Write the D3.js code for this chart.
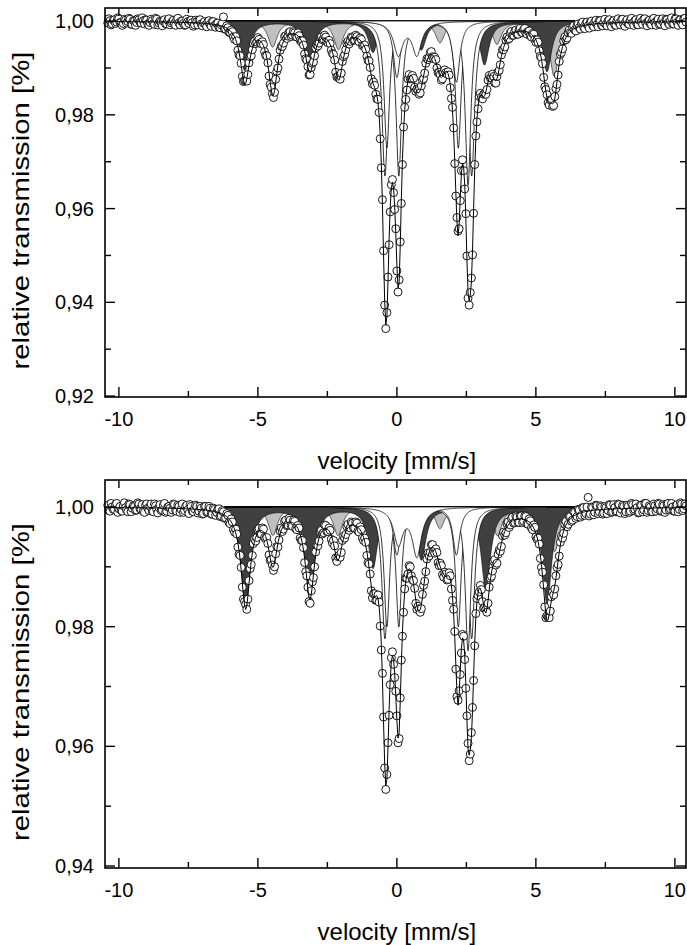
<!DOCTYPE html>
<html lang="en">
<head>
<meta charset="UTF-8">
<title>Mössbauer spectra</title>
<style>
  body { margin: 0; background: #fff; }
  svg { display: block; font-family: "Liberation Sans", Arial, sans-serif; }
</style>
</head>
<body>
<svg id="chart" width="687" height="945"></svg>
<script src="https://d3js.org/d3.v7.min.js"></script>
<script>
// velocity channels (mm/s): every 0.04, stored as two interleaved halves
const velStart = -10.4;
const velStep = 0.08;
const halfOffset = 0.04;

// velocity ticks
const xMajor = [-10, -5, 0, 5, 10];
const xMinor = [-7.5, -2.5, 2.5, 7.5];

// upper spectrum, channels -10.40, -10.32, ...
const topObs = [
  0.9996, 1.0001, 0.9994, 1.0003, 0.9998, 1.0005, 0.9997, 0.9995, 1.0002, 0.9999,
  1.0004, 0.9993, 1.0000, 0.9997, 1.0003, 0.9996, 1.0001, 1.0003, 0.9994, 0.9997,
  1.0001, 0.9993, 1.0004, 0.9996, 0.9998, 1.0000, 0.9994, 1.0002, 0.9992, 0.9999,
  0.9995, 1.0003, 0.9996, 1.0000, 0.9995, 0.9992, 0.9999, 1.0001, 0.9997, 0.9992,
  0.9999, 1.0002, 0.9994, 0.9996, 0.9992, 0.9999, 0.9993, 0.9999, 0.9991, 0.9995,
  0.9987, 0.9992, 1.0009, 0.9983, 0.9986, 0.9976, 0.9977, 0.9961, 0.9958, 0.9928,
  0.9910, 0.9871, 0.9873, 0.9886, 0.9924, 0.9939, 0.9957, 0.9955, 0.9961, 0.9952,
  0.9950, 0.9927, 0.9911, 0.9865, 0.9845, 0.9848, 0.9893, 0.9919, 0.9946, 0.9953,
  0.9969, 0.9968, 0.9977, 0.9970, 0.9975, 0.9966, 0.9969, 0.9956, 0.9949, 0.9920,
  0.9903, 0.9886, 0.9910, 0.9926, 0.9949, 0.9953, 0.9966, 0.9962, 0.9966, 0.9954,
  0.9952, 0.9931, 0.9917, 0.9881, 0.9878, 0.9889, 0.9924, 0.9939, 0.9957, 0.9957,
  0.9965, 0.9960, 0.9967, 0.9956, 0.9961, 0.9947, 0.9940, 0.9916, 0.9901, 0.9866,
  0.9863, 0.9834, 0.9805, 0.9687, 0.9510, 0.9344, 0.9454, 0.9593, 0.9662, 0.9598,
  0.9467, 0.9448, 0.9611, 0.9774, 0.9833, 0.9877, 0.9877, 0.9884, 0.9859, 0.9855,
  0.9844, 0.9862, 0.9877, 0.9910, 0.9918, 0.9933, 0.9924, 0.9923, 0.9900, 0.9891,
  0.9874, 0.9891, 0.9890, 0.9892, 0.9858, 0.9816, 0.9696, 0.9581, 0.9557, 0.9681,
  0.9681, 0.9589, 0.9409, 0.9421, 0.9501, 0.9694, 0.9785, 0.9839, 0.9838, 0.9844,
  0.9844, 0.9874, 0.9879, 0.9887, 0.9868, 0.9882, 0.9895, 0.9928, 0.9939, 0.9960,
  0.9961, 0.9975, 0.9969, 0.9978, 0.9972, 0.9982, 0.9976, 0.9982, 0.9974, 0.9978,
  0.9969, 0.9974, 0.9961, 0.9960, 0.9937, 0.9922, 0.9880, 0.9854, 0.9826, 0.9832,
  0.9818, 0.9839, 0.9865, 0.9914, 0.9933, 0.9958, 0.9960, 0.9975, 0.9976, 0.9987,
  0.9981, 0.9991, 0.9986, 0.9996, 0.9987, 0.9995, 0.9990, 0.9998, 0.9991, 0.9998,
  0.9993, 1.0001, 0.9991, 0.9997, 0.9993, 1.0001, 0.9994, 0.9999, 0.9992, 1.0001,
  0.9996, 1.0003, 0.9993, 0.9999, 0.9994, 1.0002, 0.9996, 1.0001, 0.9993, 1.0002,
  0.9998, 1.0004, 0.9995, 1.0000, 0.9994, 1.0003, 0.9997, 1.0001, 0.9993, 1.0002,
  0.9996, 1.0004, 0.9996, 1.0001, 0.9994, 1.0004, 0.9997, 1.0002, 0.9995, 1.0005,
  0.9998
];
// upper spectrum, channels -10.36, -10.28, ...
const topObsHalf = [
  1.0005, 0.9992, 1.0002, 0.9995, 1.0007, 0.9997, 0.9991, 1.0004, 0.9996, 1.0006,
  0.9993, 1.0001, 0.9991, 1.0005, 0.9998, 1.0007, 0.9994, 1.0002, 0.9991, 1.0004,
  0.9995, 1.0006, 0.9992, 1.0000, 0.9990, 1.0003, 0.9994, 1.0005, 0.9996, 1.0002,
  0.9991, 1.0006, 0.9992, 1.0000, 0.9991, 1.0004, 0.9995, 1.0002, 0.9989, 1.0002,
  0.9992, 1.0003, 0.9990, 0.9999, 0.9988, 1.0001, 0.9989, 0.9999, 0.9987, 0.9996,
  0.9986, 0.9995, 0.9983, 0.9990, 0.9976, 0.9981, 0.9966, 0.9967, 0.9938, 0.9926,
  0.9882, 0.9873, 0.9872, 0.9911, 0.9926, 0.9953, 0.9952, 0.9965, 0.9953, 0.9956,
  0.9935, 0.9926, 0.9883, 0.9859, 0.9837, 0.9876, 0.9900, 0.9938, 0.9946, 0.9967,
  0.9963, 0.9976, 0.9967, 0.9977, 0.9967, 0.9975, 0.9959, 0.9958, 0.9930, 0.9917,
  0.9885, 0.9901, 0.9913, 0.9943, 0.9947, 0.9965, 0.9960, 0.9970, 0.9956, 0.9959,
  0.9938, 0.9929, 0.9891, 0.9882, 0.9876, 0.9914, 0.9928, 0.9953, 0.9951, 0.9966,
  0.9959, 0.9970, 0.9959, 0.9964, 0.9948, 0.9949, 0.9925, 0.9915, 0.9877, 0.9870,
  0.9844, 0.9833, 0.9749, 0.9619, 0.9394, 0.9378, 0.9523, 0.9651, 0.9634, 0.9557,
  0.9422, 0.9529, 0.9694, 0.9816, 0.9853, 0.9886, 0.9878, 0.9878, 0.9850, 0.9852,
  0.9847, 0.9874, 0.9889, 0.9920, 0.9922, 0.9935, 0.9920, 0.9918, 0.9890, 0.9886,
  0.9877, 0.9896, 0.9887, 0.9885, 0.9835, 0.9772, 0.9627, 0.9552, 0.9617, 0.9704,
  0.9642, 0.9499, 0.9394, 0.9452, 0.9590, 0.9755, 0.9813, 0.9846, 0.9834, 0.9846,
  0.9854, 0.9884, 0.9879, 0.9882, 0.9868, 0.9892, 0.9907, 0.9939, 0.9945, 0.9966,
  0.9963, 0.9978, 0.9970, 0.9981, 0.9972, 0.9984, 0.9975, 0.9984, 0.9972, 0.9979,
  0.9966, 0.9972, 0.9955, 0.9955, 0.9925, 0.9909, 0.9860, 0.9843, 0.9821, 0.9831,
  0.9820, 0.9856, 0.9885, 0.9929, 0.9941, 0.9966, 0.9964, 0.9981, 0.9974, 0.9990,
  0.9979, 0.9994, 0.9983, 0.9998, 0.9984, 0.9998, 0.9985, 1.0000, 0.9988, 1.0002,
  0.9988, 1.0001, 0.9990, 1.0004, 0.9990, 1.0003, 0.9988, 1.0001, 0.9991, 1.0005,
  0.9992, 1.0004, 0.9989, 1.0003, 0.9993, 1.0006, 0.9991, 1.0003, 0.9992, 1.0006,
  0.9993, 1.0005, 0.9990, 1.0002, 0.9992, 1.0006, 0.9991, 1.0004, 0.9994, 1.0005,
  0.9990, 1.0003, 0.9993, 1.0007, 0.9994, 1.0005, 0.9991, 1.0003, 0.9992, 1.0006
];

// lower spectrum, channels -10.40, -10.32, ...
const botObs = [
  1.0003, 0.9993, 1.0000, 0.9996, 1.0006, 0.9997, 0.9994, 1.0002, 0.9999, 0.9992,
  1.0004, 0.9998, 1.0001, 0.9995, 1.0005, 0.9996, 0.9993, 1.0003, 0.9998, 1.0001,
  0.9993, 1.0005, 0.9996, 0.9999, 0.9994, 1.0003, 0.9991, 1.0000, 0.9998, 0.9995,
  1.0004, 0.9993, 1.0001, 0.9996, 0.9991, 1.0001, 0.9995, 1.0004, 0.9993, 0.9997,
  1.0001, 0.9993, 0.9998, 0.9989, 1.0001, 0.9992, 0.9998, 0.9988, 0.9996, 0.9991,
  0.9997, 0.9985, 0.9992, 0.9982, 0.9986, 0.9972, 0.9975, 0.9958, 0.9955, 0.9921,
  0.9899, 0.9846, 0.9837, 0.9846, 0.9897, 0.9919, 0.9946, 0.9949, 0.9964, 0.9955,
  0.9963, 0.9947, 0.9939, 0.9911, 0.9903, 0.9900, 0.9934, 0.9945, 0.9965, 0.9963,
  0.9978, 0.9970, 0.9978, 0.9968, 0.9976, 0.9962, 0.9965, 0.9944, 0.9932, 0.9892,
  0.9866, 0.9839, 0.9875, 0.9900, 0.9936, 0.9943, 0.9961, 0.9957, 0.9969, 0.9959,
  0.9961, 0.9940, 0.9935, 0.9909, 0.9919, 0.9924, 0.9951, 0.9954, 0.9971, 0.9965,
  0.9973, 0.9965, 0.9973, 0.9958, 0.9962, 0.9944, 0.9941, 0.9907, 0.9888, 0.9848,
  0.9855, 0.9844, 0.9841, 0.9761, 0.9649, 0.9528, 0.9606, 0.9703, 0.9758, 0.9715,
  0.9651, 0.9613, 0.9744, 0.9824, 0.9881, 0.9888, 0.9900, 0.9878, 0.9864, 0.9829,
  0.9830, 0.9830, 0.9869, 0.9892, 0.9923, 0.9924, 0.9937, 0.9923, 0.9924, 0.9902,
  0.9902, 0.9883, 0.9888, 0.9879, 0.9885, 0.9844, 0.9792, 0.9683, 0.9693, 0.9756,
  0.9784, 0.9697, 0.9605, 0.9587, 0.9665, 0.9768, 0.9847, 0.9858, 0.9862, 0.9831,
  0.9829, 0.9839, 0.9881, 0.9893, 0.9912, 0.9906, 0.9928, 0.9934, 0.9958, 0.9957,
  0.9975, 0.9970, 0.9983, 0.9974, 0.9983, 0.9974, 0.9985, 0.9976, 0.9984, 0.9971,
  0.9977, 0.9962, 0.9966, 0.9946, 0.9938, 0.9899, 0.9870, 0.9815, 0.9816, 0.9826,
  0.9858, 0.9863, 0.9899, 0.9918, 0.9951, 0.9956, 0.9976, 0.9971, 0.9984, 0.9978,
  0.9991, 0.9984, 0.9995, 0.9986, 0.9999, 0.9989, 1.0016, 0.9988, 0.9999, 0.9991,
  1.0002, 0.9992, 1.0000, 0.9990, 0.9999, 0.9994, 1.0003, 0.9992, 0.9999, 0.9993,
  1.0004, 0.9996, 1.0001, 0.9992, 1.0001, 0.9993, 1.0004, 0.9996, 0.9999, 0.9991,
  1.0003, 0.9995, 1.0006, 0.9994, 1.0000, 0.9992, 1.0002, 0.9997, 1.0005, 0.9994,
  1.0002, 0.9995, 1.0006, 0.9997, 1.0000, 0.9993, 1.0004, 0.9996, 1.0005, 0.9997,
  1.0002
];
// lower spectrum, channels -10.36, -10.28, ...
const botObsHalf = [
  0.9994, 1.0006, 0.9996, 1.0004, 0.9991, 1.0001, 0.9993, 1.0007, 0.9995, 1.0005,
  0.9992, 1.0002, 0.9994, 1.0007, 0.9997, 1.0004, 0.9991, 1.0005, 0.9994, 1.0005,
  0.9992, 1.0002, 0.9990, 1.0004, 0.9995, 1.0006, 0.9993, 1.0001, 0.9991, 1.0005,
  0.9994, 1.0003, 0.9991, 1.0005, 0.9994, 1.0003, 0.9989, 1.0001, 0.9992, 1.0003,
  0.9990, 1.0001, 0.9988, 1.0001, 0.9991, 1.0001, 0.9988, 0.9998, 0.9986, 0.9996,
  0.9984, 0.9994, 0.9981, 0.9989, 0.9974, 0.9980, 0.9962, 0.9963, 0.9933, 0.9919,
  0.9866, 0.9842, 0.9829, 0.9877, 0.9904, 0.9939, 0.9943, 0.9962, 0.9955, 0.9965,
  0.9949, 0.9949, 0.9920, 0.9912, 0.9894, 0.9922, 0.9933, 0.9960, 0.9959, 0.9976,
  0.9969, 0.9981, 0.9969, 0.9978, 0.9964, 0.9969, 0.9948, 0.9944, 0.9907, 0.9885,
  0.9842, 0.9860, 0.9882, 0.9925, 0.9935, 0.9959, 0.9955, 0.9970, 0.9959, 0.9965,
  0.9946, 0.9944, 0.9915, 0.9917, 0.9916, 0.9944, 0.9948, 0.9967, 0.9961, 0.9975,
  0.9965, 0.9975, 0.9960, 0.9967, 0.9948, 0.9948, 0.9919, 0.9905, 0.9860, 0.9855,
  0.9844, 0.9853, 0.9801, 0.9722, 0.9564, 0.9553, 0.9652, 0.9748, 0.9737, 0.9692,
  0.9606, 0.9681, 0.9784, 0.9863, 0.9881, 0.9902, 0.9885, 0.9877, 0.9839, 0.9834,
  0.9824, 0.9854, 0.9876, 0.9913, 0.9918, 0.9937, 0.9926, 0.9930, 0.9907, 0.9906,
  0.9887, 0.9891, 0.9878, 0.9890, 0.9863, 0.9829, 0.9729, 0.9677, 0.9720, 0.9787,
  0.9745, 0.9651, 0.9576, 0.9623, 0.9710, 0.9822, 0.9852, 0.9869, 0.9842, 0.9832,
  0.9824, 0.9866, 0.9884, 0.9909, 0.9903, 0.9921, 0.9926, 0.9952, 0.9953, 0.9972,
  0.9966, 0.9981, 0.9973, 0.9985, 0.9974, 0.9985, 0.9974, 0.9985, 0.9972, 0.9980,
  0.9965, 0.9970, 0.9950, 0.9948, 0.9914, 0.9891, 0.9833, 0.9818, 0.9815, 0.9850,
  0.9853, 0.9885, 0.9904, 0.9941, 0.9948, 0.9971, 0.9967, 0.9984, 0.9976, 0.9992,
  0.9981, 0.9996, 0.9983, 0.9999, 0.9986, 1.0000, 0.9985, 1.0000, 0.9987, 1.0003,
  0.9989, 1.0002, 0.9988, 1.0001, 0.9989, 1.0004, 0.9991, 1.0004, 0.9992, 1.0005,
  0.9990, 1.0003, 0.9989, 1.0003, 0.9991, 1.0006, 0.9994, 1.0005, 0.9990, 1.0003,
  0.9992, 1.0006, 0.9991, 1.0002, 0.9992, 1.0005, 0.9993, 1.0006, 0.9993, 1.0004,
  0.9991, 1.0005, 0.9995, 1.0006, 0.9993, 1.0002, 0.9992, 1.0007, 0.9994, 1.0005
];

// fitted subspectra (line position mm/s, depth, half width mm/s)
const topDarkPos = [-5.47, -3.13, -0.86, 0.88, 3.15, 5.40];
const topDarkDepth = [0.0105, 0.0098, 0.0065, 0.0060, 0.0092, 0.0107];
const topLightPos = [-4.47, -2.10, -0.25, 1.55, 3.60, 5.66];
const topLightDepth = [0.0055, 0.0060, 0.0040, 0.0045, 0.0048, 0.0117];
const topDoubletPos = [[-0.43, 2.69], [0.07, 2.21], [-0.36, 2.56], [0.00, 2.14], [0.05, 0.72]];
const topDoubletDepth = [[0.033, 0.033], [0.033, 0.027], [0.027, 0.035], [0.012, 0.013], [0.007, 0.007]];
const topDoubletWidth = [0.13, 0.12, 0.12, 0.15, 0.20];
const topExtraPos = [-5.45, -4.45, -2.09, 1.62, 3.55, 5.55];
const topExtraDepth = [0.0022, 0.0095, 0.0052, 0.0030, 0.0042, 0.0012];

const botDarkPos = [-5.44, -3.13, -0.86, 0.88, 3.20, 5.40];
const botDarkDepth = [0.0165, 0.0145, 0.0100, 0.0086, 0.0136, 0.0160];
const botLightPos = [-4.46, -2.12, -0.25, 1.55, 3.62, 5.68];
const botLightDepth = [0.0047, 0.0047, 0.0030, 0.0035, 0.0047, 0.0074];
const botDoubletPos = [[-0.43, 2.69], [0.07, 2.21], [-0.36, 2.56], [0.00, 2.14], [0.05, 0.72]];
const botDoubletDepth = [[0.022, 0.022], [0.020, 0.020], [0.020, 0.024], [0.008, 0.008], [0.006, 0.008]];
const botDoubletWidth = [0.13, 0.12, 0.12, 0.15, 0.20];
const botExtraPos = [-4.46, -2.12, 1.75];
const botExtraDepth = [0.0042, 0.0027, 0.0050];

const sextetWidth = 0.2;

function lines(pos, depth, hw) {
  return pos.map((p, i) => ({ p: p, d: depth[i], w: hw }));
}
// Lorentzian absorption of a set of lines at velocity v
function absorb(ls, v) {
  return d3.sum(ls, l => l.d / (1 + ((v - l.p) / l.w) ** 2));
}

const panels = [
  {
    top: 8, bottom: 397, yDomain: [0.9198, 1.0028],
    yMajor: [0.92, 0.94, 0.96, 0.98, 1.00],
    yMinor: [0.93, 0.95, 0.97, 0.99],
    obs: topObs, obsHalf: topObsHalf,
    dark: lines(topDarkPos, topDarkDepth, sextetWidth),
    light: lines(topLightPos, topLightDepth, sextetWidth),
    doublets: topDoubletPos.map((p, k) => lines(p, topDoubletDepth[k], topDoubletWidth[k])),
    extra: lines(topExtraPos, topExtraDepth, sextetWidth)
  },
  {
    top: 480, bottom: 868, yDomain: [0.93967, 1.00451],
    yMajor: [0.94, 0.96, 0.98, 1.00],
    yMinor: [0.95, 0.97, 0.99],
    obs: botObs, obsHalf: botObsHalf,
    dark: lines(botDarkPos, botDarkDepth, sextetWidth),
    light: lines(botLightPos, botLightDepth, sextetWidth),
    doublets: botDoubletPos.map((p, k) => lines(p, botDoubletDepth[k], botDoubletWidth[k])),
    extra: lines(botExtraPos, botExtraDepth, sextetWidth)
  }
];

const svg = d3.select("#chart");
const left = 105, right = 686;
const x = d3.scaleLinear().domain([-10.5, 10.4]).range([left, right]);
const fine = d3.range(-6.2, 6.4001, 0.01);
const fmt = d => d3.format(".2f")(d).replace(".", ",");

panels.forEach(pn => {
  const y = d3.scaleLinear().domain(pn.yDomain).range([pn.bottom, pn.top]);
  const g = svg.append("g");
  const pts = pn.obs.map((t, i) => ({ v: velStart + i * velStep, t: t }))
    .concat(pn.obsHalf.map((t, i) => ({ v: velStart + halfOffset + i * velStep, t: t })))
    .sort((a, b) => a.v - b.v);

  const area = ls => d3.area()
    .x(v => x(v))
    .y0(y(1))
    .y1(v => y(1 - absorb(ls, v)))(fine);

  // subspectra: light sextet, dark sextet, then white doublets
  g.append("path").attr("d", area(pn.light))
    .attr("fill", "#c0c0c0").attr("stroke", "#000").attr("stroke-width", 0.6);
  g.append("path").attr("d", area(pn.dark))
    .attr("fill", "#404040").attr("stroke", "#000").attr("stroke-width", 0.6);
  pn.doublets.forEach(ls => {
    g.append("path").attr("d", area(ls))
      .attr("fill", "#fff").attr("stroke", "#000").attr("stroke-width", 0.8);
  });

  // measured points
  g.selectAll("circle").data(pts).join("circle")
    .attr("cx", d => x(d.v)).attr("cy", d => y(d.t)).attr("r", 4)
    .attr("fill", "#fff").attr("stroke", "#000").attr("stroke-width", 0.9);

  // total fit
  const all = pn.dark.concat(pn.light, pn.extra, ...pn.doublets);
  g.append("path")
    .attr("d", d3.line().x(d => x(d.v)).y(d => y(1 - absorb(all, d.v)))(pts))
    .attr("fill", "none").attr("stroke", "#000").attr("stroke-width", 1);

  // frame and inward ticks
  g.append("rect").attr("x", left).attr("y", pn.top)
    .attr("width", right - left).attr("height", pn.bottom - pn.top)
    .attr("fill", "none").attr("stroke", "#000").attr("stroke-width", 1.6);

  const tick = (x1, y1, x2, y2) => g.append("line")
    .attr("x1", x1).attr("y1", y1).attr("x2", x2).attr("y2", y2)
    .attr("stroke", "#000").attr("stroke-width", 1.4);
  xMajor.forEach(v => { tick(x(v), pn.bottom, x(v), pn.bottom - 10); tick(x(v), pn.top, x(v), pn.top + 8); });
  xMinor.forEach(v => { tick(x(v), pn.bottom, x(v), pn.bottom - 6); tick(x(v), pn.top, x(v), pn.top + 5); });
  pn.yMajor.forEach(t => { tick(left, y(t), left + 10, y(t)); tick(right, y(t), right - 10, y(t)); });
  pn.yMinor.forEach(t => { tick(left, y(t), left + 6, y(t)); tick(right, y(t), right - 6, y(t)); });

  g.selectAll(".xl").data(xMajor).join("text")
    .attr("x", v => x(v)).attr("y", pn.bottom + 29)
    .attr("text-anchor", "middle").attr("font-size", 20).text(d => d);
  g.selectAll(".yl").data(pn.yMajor).join("text")
    .attr("x", 94).attr("y", t => y(t) + 7)
    .attr("text-anchor", "end").attr("font-size", 20).text(fmt);

  g.append("text").attr("x", x(0)).attr("y", pn.bottom + 72)
    .attr("text-anchor", "middle").attr("font-size", 24).text("velocity [mm/s]");
  g.append("text")
    .attr("transform", `translate(29,${(pn.top + pn.bottom) / 2 + 8}) rotate(-90)`)
    .attr("text-anchor", "middle").attr("font-size", 24)
    .attr("textLength", 318).attr("lengthAdjust", "spacingAndGlyphs")
    .text("relative transmission [%]");
});
</script>
</body>
</html>
